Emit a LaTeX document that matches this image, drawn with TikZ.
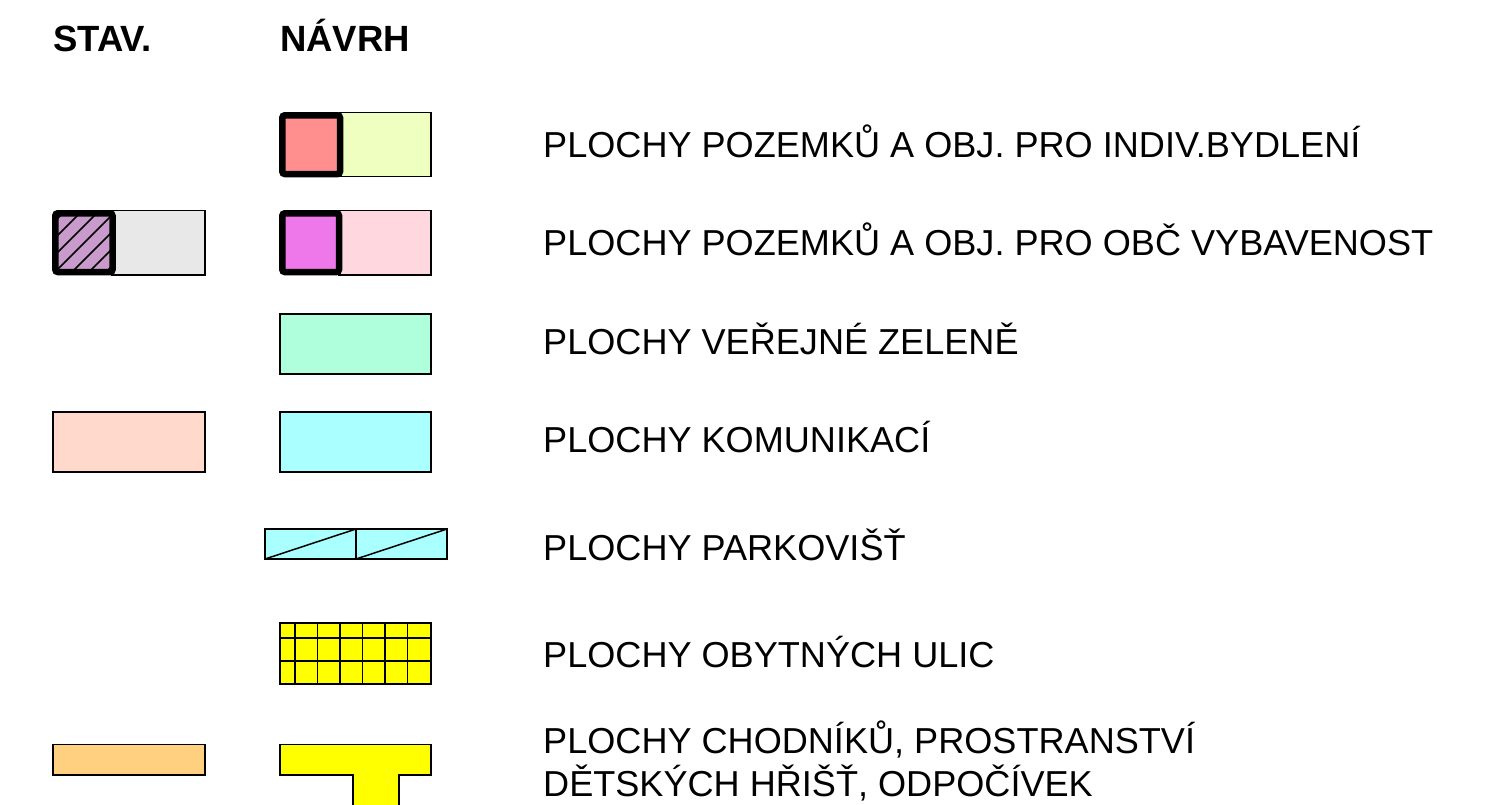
\documentclass[tikz,border=0pt]{standalone}
\usepackage{fontspec}
\setmainfont{Liberation Sans}
\begin{document}
\begin{tikzpicture}[x=1pt,y=-1pt,
  thin box/.style={draw=black,line width=1.5pt},
  thick box/.style={draw=black,line width=6.5pt,rounded corners=2.5pt},
  lbl/.style={anchor=base west,inner sep=0pt,font=\fontsize{36.1}{43}\selectfont},
  hdr/.style={anchor=base west,inner sep=0pt,font=\fontsize{36.5}{43}\selectfont\bfseries}]
\useasboundingbox (0,0) rectangle (1488,804);
\clip (0,0) rectangle (1488,804);
\definecolor{cSalmon}{HTML}{FF8F8F}
\definecolor{cLime}{HTML}{EEFFC0}
\definecolor{cPurple}{HTML}{C99BCC}
\definecolor{cGray}{HTML}{E8E8E8}
\definecolor{cMagenta}{HTML}{EE78EA}
\definecolor{cPink}{HTML}{FFD7DE}
\definecolor{cGreen}{HTML}{B0FFDC}
\definecolor{cPeach}{HTML}{FFD9CC}
\definecolor{cCyan}{HTML}{AAFFFF}
\definecolor{cYellow}{HTML}{FFFF00}
\definecolor{cOrange}{HTML}{FFD080}

% headers
\node[hdr] (hstav) at (53,51.7) {STAV.};
\node[hdr] (hnavrh) at (280,51.7) {NÁVRH};

% row 1
\fill[cLime] (340,112.5) rectangle (431,176.5);
\draw[thin box] (340,112.5) rectangle (431,176.5);
\filldraw[fill=cSalmon,thick box] (282.3,115.3) rectangle (340,174);
\node[lbl] (t1) at (543,157.7) {PLOCHY POZEMKŮ A OBJ. PRO INDIV.BYDLENÍ};

% row 2 stav
\filldraw[fill=cGray,thin box] (112,210.5) rectangle (205,275);
\fill[cPurple] (55,213) rectangle (112,272);
\begin{scope}
\clip (55,213) rectangle (112,272);
\foreach \k in {-3,...,4} {
  \draw[line width=1.6pt] (55+\k*17,272) -- ++(70,-70);
}
\end{scope}
\draw[thick box] (55.3,213.3) rectangle (112.5,272);
% row 2 navrh
\filldraw[fill=cPink,thin box] (339,210.5) rectangle (431,275);
\filldraw[fill=cMagenta,thick box] (282.3,213.3) rectangle (339,272);
\node[lbl] (t2) at (543,255.7) {PLOCHY POZEMKŮ A OBJ. PRO OBČ VYBAVENOST};

% row 3
\filldraw[fill=cGreen,thin box] (280,314) rectangle (431,374);
\node[lbl] (t3) at (543,354.7) {PLOCHY VEŘEJNÉ ZELENĚ};

% row 4
\filldraw[fill=cPeach,thin box] (53,412) rectangle (205,472);
\filldraw[fill=cCyan,thin box] (280,412) rectangle (431,472);
\node[lbl] (t4) at (543,452.7) {PLOCHY KOMUNIKACÍ};

% row 5 parking
\filldraw[fill=cCyan,thin box] (265,529) rectangle (447,559);
\draw[line width=1.5pt] (356,529) -- (356,559);
\draw[line width=1.5pt] (265,559) -- (356,529);
\draw[line width=1.5pt] (356,559) -- (447,529);
\node[lbl] (t5) at (543,560.7) {PLOCHY PARKOVIŠŤ};

% row 6 grid
\fill[cYellow] (280,623) rectangle (431,684);
\foreach \x in {295,317.5,340,362.5,385,407.5} {
  \draw[line width=1.8pt] (\x,623) -- (\x,684);
}
\foreach \y in {638,661} {
  \draw[line width=1.8pt] (280,\y) -- (431,\y);
}
\draw[line width=2.4pt] (280,623) rectangle (431,684);
\node[lbl] (t6) at (543,667.7) {PLOCHY OBYTNÝCH ULIC};

% row 7
\filldraw[fill=cOrange,thin box] (53,744.5) rectangle (205,775);
\filldraw[fill=cYellow,thin box] (280,744.5) -- (431,744.5) -- (431,775) -- (399,775) -- (399,815) -- (353,815) -- (353,775) -- (280,775) -- cycle;
\node[lbl] (t7a) at (543,753) {PLOCHY CHODNÍKŮ, PROSTRANSTVÍ};
\node[lbl] (t7b) at (543,796) {DĚTSKÝCH HŘIŠŤ, ODPOČÍVEK};
\end{tikzpicture}
\end{document}
